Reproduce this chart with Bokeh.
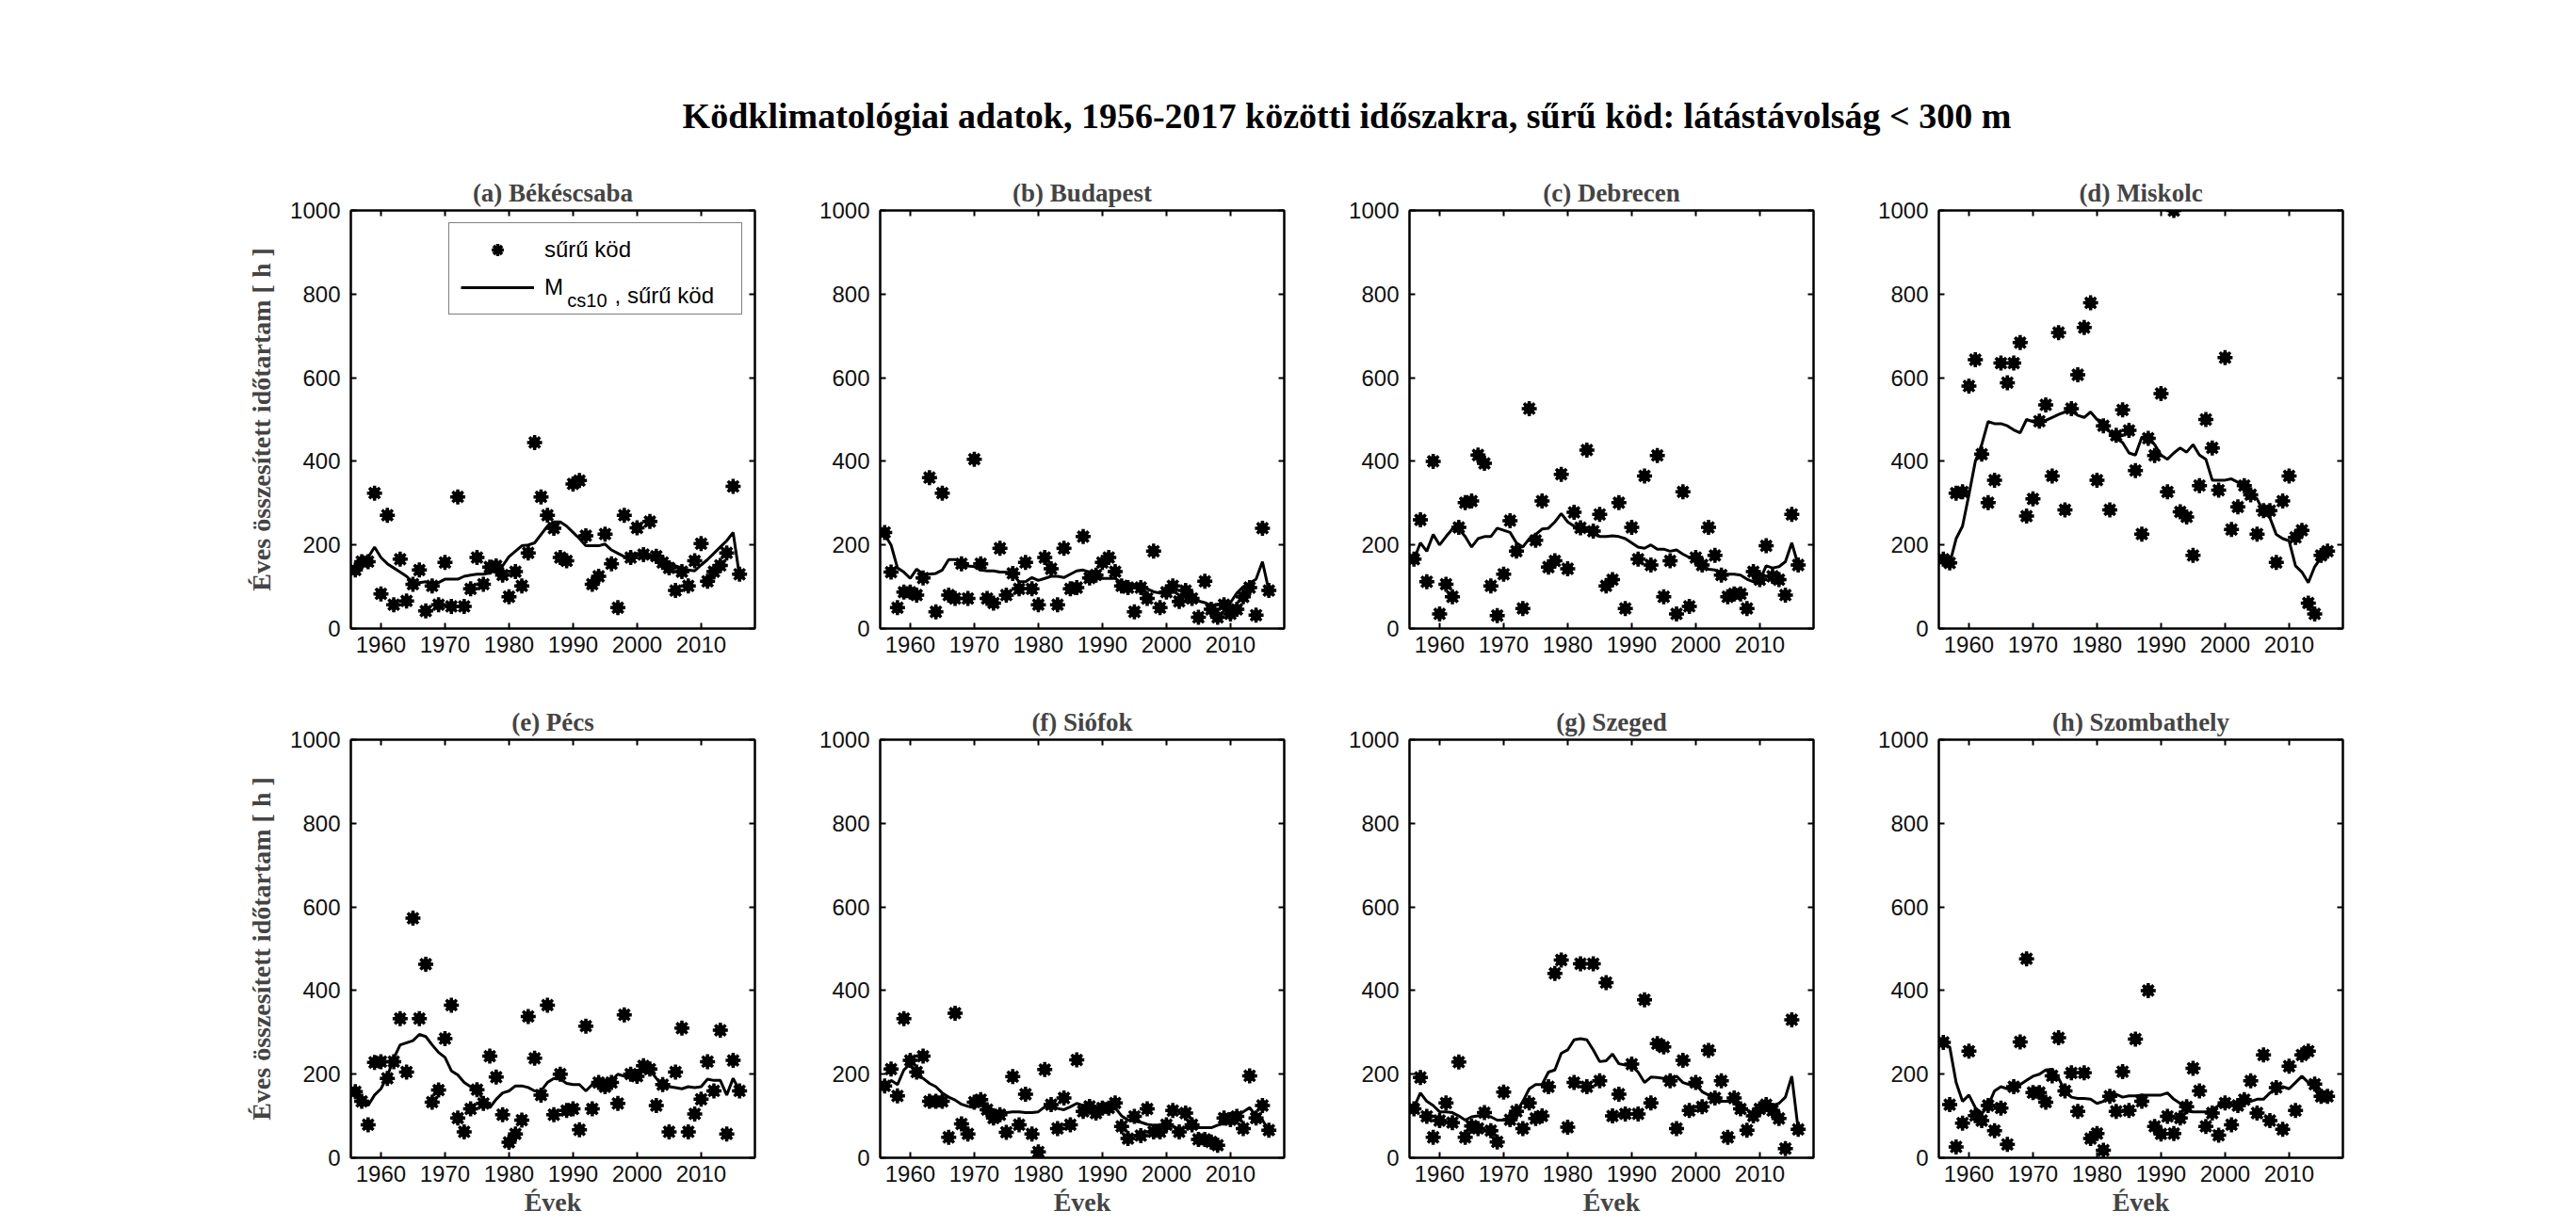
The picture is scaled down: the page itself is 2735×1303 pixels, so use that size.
from bokeh.plotting import figure
from bokeh.models import (Range1d, FixedTicker, LinearAxis, Legend, LegendItem,
                          Label, CustomJSTickFormatter)
from bokeh.layouts import column, row
from bokeh.embed import file_html
from bokeh.resources import INLINE
from bokeh.core.properties import value

MAIN_TITLE = "Ködklimatológiai adatok, 1956-2017 közötti időszakra, sűrű köd: látástávolság < 300 m"
Y_LABEL = "Éves összesített időtartam [ h ]"
X_LABEL = "Évek"
LEGEND_POINTS = "sűrű köd"
LEGEND_LINE_M = "M"
LEGEND_LINE_SUB = "cs10"
LEGEND_LINE_REST = ", sűrű köd"

YEARS = list(range(1956, 2017))
X_TICKS = [1960, 1970, 1980, 1990, 2000, 2010]
Y_TICKS = [0, 200, 400, 600, 800, 1000]

TITLES = ["(a) Békéscsaba", "(b) Budapest", "(c) Debrecen", "(d) Miskolc",
          "(e) Pécs", "(f) Siófok", "(g) Szeged", "(h) Szombathely"]

bekescsaba_pts = [140, 160, 160, 324, 83, 271, 57, 166, 66, 106,
                  140, 42, 102, 57, 158, 53, 315, 53, 95, 170,
                  106, 147, 150, 128, 76, 136, 102, 181, 445, 315,
                  271, 240, 170, 162, 346, 354, 222, 106, 125, 226,
                  155, 50, 271, 170, 241, 177, 256, 173, 158, 145,
                  91, 136, 102, 162, 203, 113, 136, 151, 181, 340,
                  130]
bekescsaba_line = [145, 165, 170, 195, 170, 155, 145, 135, 125, 110,
                   110, 112, 103, 110, 118, 118, 118, 125, 128, 130,
                   130, 133, 140, 150, 172, 185, 198, 200, 205, 225,
                   245, 255, 255, 245, 230, 215, 198, 198, 198, 202,
                   188, 180, 172, 175, 180, 175, 170, 165, 160, 158,
                   150, 145, 140, 138, 152, 165, 180, 195, 210, 230,
                   125]

budapest_pts = [230, 135, 50, 87, 87, 80, 121, 361, 40, 324,
                80, 72, 155, 72, 405, 155, 72, 61, 192, 80,
                132, 95, 158, 95, 57, 170, 143, 57, 192, 95,
                98, 220, 121, 128, 158, 170, 136, 102, 98, 40,
                98, 72, 185, 50, 87, 102, 65, 91, 72, 27,
                113, 46, 27, 57, 35, 46, 76, 98, 32, 240,
                91]
budapest_line = [225, 200, 145, 135, 120, 142, 130, 130, 132, 140,
                 165, 165, 160, 150, 148, 140, 138, 138, 135, 135,
                 130, 112, 112, 122, 115, 120, 125, 125, 122, 130,
                 138, 140, 135, 130, 120, 120, 120, 110, 108, 105,
                 100, 95, 88, 85, 82, 90, 80, 80, 70, 66,
                 62, 55, 58, 58, 62, 85, 100, 108, 118, 160,
                 91]

debrecen_pts = [166, 260, 112, 400, 35, 106, 76, 242, 301, 305,
                415, 395, 102, 31, 130, 258, 185, 48, 526, 211,
                305, 147, 162, 369, 143, 278, 241, 427, 233, 273,
                102, 117, 301, 48, 242, 166, 365, 152, 414, 76,
                162, 35, 327, 53, 170, 152, 242, 175, 128, 76,
                83, 83, 48, 136, 117, 198, 125, 117, 80, 273,
                152]
debrecen_line = [165, 205, 185, 225, 200, 220, 238, 238, 220, 195,
                 215, 220, 220, 240, 235, 230, 205, 195, 215, 225,
                 238, 240, 255, 275, 255, 245, 235, 235, 230, 220,
                 220, 222, 220, 215, 205, 195, 192, 200, 190, 190,
                 185, 188, 178, 170, 165, 152, 142, 140, 130, 130,
                 130, 128, 118, 112, 115, 150, 145, 148, 160, 205,
                 152]

miskolc_pts = [166, 157, 324, 327, 580, 643, 417, 301, 355, 635,
               588, 635, 684, 269, 310, 496, 535, 365, 708, 284,
               526, 607, 720, 779, 355, 485, 284, 462, 523, 474,
               378, 226, 455, 414, 562, 327, 1000, 279, 267, 175,
               342, 500, 432, 331, 648, 237, 291, 342, 320, 226,
               282, 282, 158, 305, 365, 218, 235, 61, 35, 175,
               185]
miskolc_line = [160, 155, 215, 245, 320, 400, 440, 495, 490, 490,
                485, 475, 468, 500, 495, 490, 498, 505, 512, 518,
                520, 510, 505, 518, 500, 495, 470, 455, 445, 420,
                415, 458, 458, 440, 415, 405, 420, 432, 422, 440,
                415, 405, 355, 355, 355, 358, 350, 335, 320, 310,
                280, 265, 225, 215, 210, 150, 135, 110, 148, 170,
                185]

pecs_pts = [158, 135, 79, 228, 230, 190, 230, 333, 205, 573,
            333, 463, 133, 162, 285, 365, 95, 62, 117, 163,
            130, 243, 193, 103, 37, 57, 90, 338, 238, 150,
            365, 103, 200, 113, 117, 67, 315, 117, 180, 170,
            180, 130, 342, 200, 195, 220, 212, 125, 175, 62,
            205, 310, 62, 105, 140, 230, 160, 305, 57, 233,
            160]
pecs_line = [160, 145, 125, 150, 165, 195, 238, 270, 275, 280,
             295, 290, 270, 252, 240, 208, 198, 180, 170, 160,
             140, 120, 140, 155, 160, 172, 172, 168, 160, 160,
             180, 190, 188, 178, 175, 175, 160, 175, 178, 182,
             185, 200, 195, 198, 200, 215, 210, 190, 172, 170,
             168, 165, 170, 168, 170, 188, 185, 185, 150, 190,
             160]

siofok_pts = [172, 212, 148, 333, 233, 205, 243, 135, 135, 135,
              49, 346, 81, 57, 133, 139, 115, 95, 103, 61,
              194, 79, 152, 57, 14, 211, 127, 70, 143, 79,
              234, 111, 123, 107, 119, 119, 131, 75, 46, 99,
              53, 117, 62, 62, 79, 113, 62, 107, 79, 44,
              44, 38, 30, 95, 91, 99, 70, 196, 95, 125,
              66]
siofok_line = [165, 185, 175, 210, 225, 195, 190, 178, 170, 155,
               145, 138, 128, 123, 120, 128, 118, 108, 105, 108,
               110, 110, 108, 108, 110, 122, 125, 118, 115, 122,
               130, 125, 120, 115, 112, 115, 120, 100, 90, 88,
               85, 80, 78, 78, 80, 75, 68, 72, 78, 72,
               72, 72, 78, 82, 85, 100, 110, 120, 100, 90,
               66]

szeged_pts = [117, 192, 99, 49, 89, 131, 84, 229, 49, 76,
              70, 108, 65, 38, 157, 91, 111, 70, 131, 94,
              100, 170, 441, 473, 73, 180, 464, 170, 464, 184,
              419, 100, 152, 105, 224, 105, 378, 131, 273, 265,
              184, 70, 233, 113, 180, 122, 257, 143, 184, 49,
              143, 117, 66, 100, 117, 127, 113, 94, 22, 330,
              68]
szeged_line = [120, 155, 135, 125, 110, 110, 108, 100, 90, 98,
               100, 100, 98, 90, 90, 95, 110, 135, 165, 175,
               175, 205, 210, 250, 258, 282, 285, 282, 258, 230,
               232, 248, 225, 222, 220, 205, 180, 193, 192, 190,
               188, 195, 180, 175, 175, 158, 150, 142, 135, 135,
               135, 125, 115, 105, 115, 125, 125, 130, 145, 195,
               68]

szombathely_pts = [276, 127, 26, 83, 255, 101, 89, 125, 65, 119,
                   32, 170, 277, 476, 156, 156, 133, 196, 287, 160,
                   203, 111, 203, 46, 58, 18, 147, 111, 206, 113,
                   284, 135, 400, 75, 57, 99, 58, 95, 122, 214,
                   160, 75, 107, 54, 131, 79, 125, 139, 184, 107,
                   246, 89, 168, 68, 219, 113, 246, 255, 176, 147,
                   147]
szombathely_line = [272, 265, 180, 135, 150, 120, 105, 125, 160, 170,
                    165, 170, 175, 185, 195, 200, 210, 212, 190, 160,
                    145, 142, 142, 140, 130, 135, 150, 152, 145, 148,
                    148, 150, 150, 150, 150, 155, 140, 130, 112, 110,
                    110, 110, 115, 125, 128, 128, 125, 135, 135, 140,
                    140, 155, 165, 170, 165, 180, 195, 180, 170, 150,
                    147]

POINTS = [bekescsaba_pts, budapest_pts, debrecen_pts, miskolc_pts,
          pecs_pts, siofok_pts, szeged_pts, szombathely_pts]
LINES = [bekescsaba_line, budapest_line, debrecen_line, miskolc_line,
         pecs_line, siofok_line, szeged_line, szombathely_line]

XMIN, XMAX = 1955.3, 2018.4
FRAME_W, FRAME_H = 429, 444
SERIF = "Liberation Serif"
SANS = "Liberation Sans"
LEFT0 = 372


def base_axis_style(ax):
    ax.axis_line_color = "black"
    ax.axis_line_width = 2
    ax.major_tick_line_color = "black"
    ax.major_tick_line_width = 2
    ax.major_tick_in = 6
    ax.major_tick_out = 0
    ax.minor_tick_line_color = None


def label_axis_style(ax, standoff):
    base_axis_style(ax)
    ax.major_label_text_font = SANS
    ax.major_label_text_font_size = "24px"
    ax.major_label_text_color = "#111111"
    ax.major_label_standoff = standoff


def blank_axis(ticks):
    ax = LinearAxis(ticker=FixedTicker(ticks=ticks))
    base_axis_style(ax)
    ax.formatter = CustomJSTickFormatter(code="return ''")
    ax.major_label_text_font_size = "1px"
    ax.major_label_standoff = 0
    return ax


def make_panel(i):
    r, c = divmod(i, 4)
    p = figure(frame_width=FRAME_W, frame_height=FRAME_H,
               x_range=Range1d(XMIN, XMAX), y_range=Range1d(0, 1000),
               output_backend="svg", toolbar_location=None,
               min_border_left=LEFT0 if c == 0 else 113, min_border_right=20,
               min_border_top=63 if r == 0 else 68,
               min_border_bottom=50 if r == 0 else 70,
               background_fill_color="white", border_fill_color="white")
    p.title.text = TITLES[i]
    p.title.text_font = SERIF
    p.title.text_font_size = "27px"
    p.title.text_font_style = "bold"
    p.title.align = "center"
    p.title.standoff = 8
    p.xgrid.visible = False
    p.ygrid.visible = False
    p.outline_line_color = "black"
    p.outline_line_width = 2

    xax = p.xaxis[0]
    yax = p.yaxis[0]
    xax.ticker = FixedTicker(ticks=X_TICKS)
    yax.ticker = FixedTicker(ticks=Y_TICKS)
    label_axis_style(xax, 8)
    label_axis_style(yax, 11)

    if c == 0:
        yax.axis_label = Y_LABEL
        yax.axis_label_text_font = SERIF
        yax.axis_label_text_font_size = "28px"
        yax.axis_label_text_font_style = "bold"
        yax.axis_label_standoff = 12
    if r == 1:
        xax.axis_label = X_LABEL
        xax.axis_label_text_font = SERIF
        xax.axis_label_text_font_size = "28px"
        xax.axis_label_text_font_style = "bold"
        xax.axis_label_standoff = 3

    p.add_layout(blank_axis(X_TICKS), "above")
    p.add_layout(blank_axis(Y_TICKS), "right")

    if i == 0:
        p.add_layout(Label(x=1989.1, y=785, text=LEGEND_LINE_SUB,
                           text_font=SANS, text_font_size="20px",
                           text_color="black",
                           text_baseline="alphabetic", text_align="left"))
        p.add_layout(Label(x=1996.5, y=798, text=LEGEND_LINE_REST,
                           text_font=SANS, text_font_size="24px",
                           text_color="black",
                           text_baseline="alphabetic", text_align="left"))

    ra = p.scatter(YEARS, POINTS[i], marker="asterisk", size=16,
                   line_width=3.5, color="black")
    p.scatter(YEARS, POINTS[i], marker="circle", size=11, color="black")
    rl = p.line(YEARS, LINES[i], line_width=3, color="black")

    if i == 0:
        leg = Legend(items=[LegendItem(label=LEGEND_POINTS, renderers=[ra]),
                            LegendItem(label=LEGEND_LINE_M, renderers=[rl])],
                     location="top_right", margin=13, padding=12, spacing=8,
                     glyph_width=78, glyph_height=32, label_standoff=11,
                     label_width=197, label_text_font=SANS,
                     label_text_font_size="24px", label_text_color="black",
                     border_line_color="black", border_line_width=1.5,
                     background_fill_alpha=0.0)
        p.add_layout(leg)
    return p


panels = [make_panel(i) for i in range(8)]

TOTAL_W = LEFT0 + FRAME_W + 20 + 3 * (113 + FRAME_W + 20)
HEADER_H = 160
header = figure(width=TOTAL_W, height=HEADER_H, x_range=Range1d(0, TOTAL_W),
                y_range=Range1d(0, HEADER_H), output_backend="svg",
                toolbar_location=None, x_axis_location=None,
                y_axis_location=None, min_border=0)
header.grid.visible = False
header.outline_line_color = None
header.text(x=[1429.5], y=[38], text=[MAIN_TITLE],
            text_font=value(SERIF), text_font_size="38px",
            text_font_style="bold", text_align="center",
            text_baseline="middle", text_color="black")

layout = column(header, row(*panels[:4]), row(*panels[4:]))

open("out.html", "w").write(file_html(layout, INLINE))
